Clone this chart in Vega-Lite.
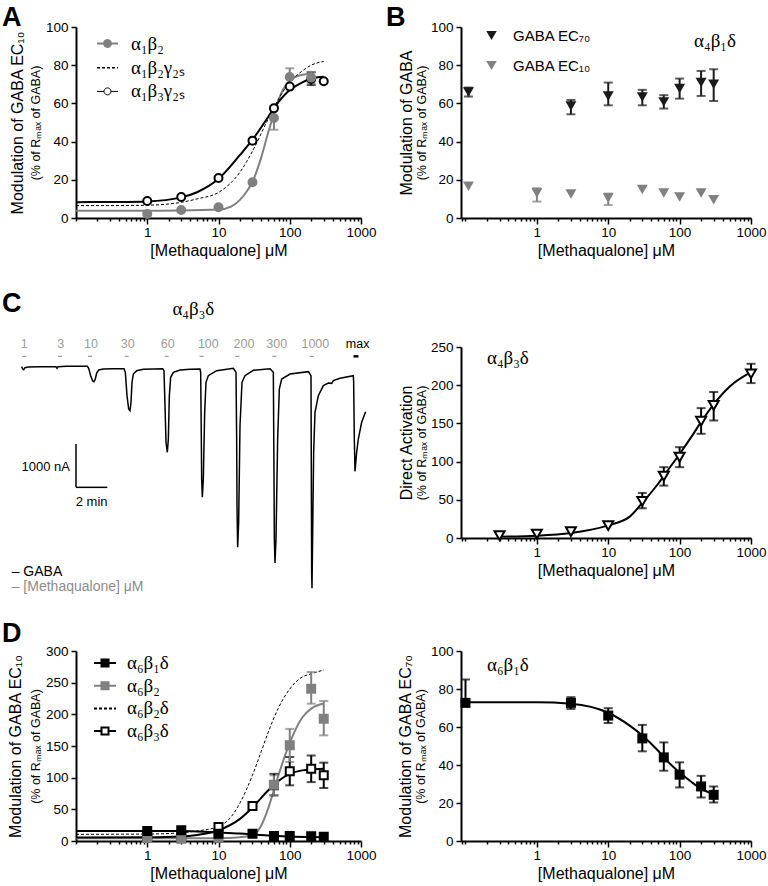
{
"$schema": "https://vega.github.io/schema/vega-lite/v6.json",
"background": "white",
"padding": {"left": 2, "top": 4, "right": 0, "bottom": 0},
"columns": 2,
"bounds": "flush",
"spacing": {"row": 113, "column": 100},
"resolve": {
  "scale": {"color": "independent", "fill": "independent", "stroke": "independent", "shape": "independent", "strokeDash": "independent", "strokeWidth": "independent"},
  "legend": {"color": "independent", "fill": "independent", "stroke": "independent", "shape": "independent", "strokeDash": "independent", "strokeWidth": "independent"}
},
"config": {
  "font": "Liberation Sans",
  "view": {"stroke": null},
  "axis": {"grid": false, "domainColor": "#000000", "domainWidth": 2, "tickColor": "#000000", "tickWidth": 1.5, "tickSize": 5, "labelColor": "#000000", "labelFontSize": 13.5, "labelPadding": 3, "titleColor": "#000000", "titleFontSize": 16, "titleFontWeight": "normal", "labelFont": "Liberation Sans", "titleFont": "Liberation Sans"},
  "axisX": {"values": [0.2,0.3,0.4,0.5,0.6,0.7,0.8,0.9,1,2,3,4,5,6,7,8,9,10,20,30,40,50,60,70,80,90,100,200,300,400,500,600,700,800,900,1000], "format": "~g", "labelExpr": "(datum.value == 1 || datum.value == 10 || datum.value == 100 || datum.value == 1000) ? datum.label : ''", "tickSize": {"condition": {"test": "datum.value == 1 || datum.value == 10 || datum.value == 100 || datum.value == 1000", "value": 6}, "value": 3}, "labelFlush": false, "labelOverlap": false, "labelPadding": 1, "titlePadding": 4},
  "title": {"font": "Liberation Sans", "fontSize": 27, "fontWeight": "bold", "anchor": "start", "frame": "group", "baseline": "alphabetic", "color": "#000000"}
},
"concat": [
{
 "width": 285, "height": 191,
 "title": {"text": "A", "dx": -74, "offset": -12},
 "layer": [
  {"data": {"name": "A_fit"}, "transform": [{"filter": "false"}], "mark": {"type": "point", "opacity": 1},
   "encoding": {"y": {"field": "v", "type": "quantitative", "scale": {"domain": [0, 100], "nice": false}, "axis": null},
    "stroke": {"field": "s", "type": "nominal", "scale": {"domain": ["α₁β₂", "α₁β₂γ₂ₛ", "α₁β₃γ₂ₛ"], "range": ["#808080", "#000000", "#000000"]},
     "legend": {"orient": "top-left", "offset": 5, "title": null, "padding": 0, "symbolSize": 441, "symbolOffset": 15, "labelOffset": 12, "rowPadding": 2.2, "labelFont": "Liberation Serif", "labelFontSize": 19, "labelColor": "#000000"}},
    "fill": {"field": "s", "type": "nominal", "scale": {"domain": ["α₁β₂", "α₁β₂γ₂ₛ", "α₁β₃γ₂ₛ"], "range": ["#808080", "transparent", "#ffffff"]},
     "legend": {"orient": "top-left", "offset": 5, "title": null, "padding": 0, "symbolSize": 441, "symbolOffset": 15, "labelOffset": 12, "rowPadding": 2.2, "labelFont": "Liberation Serif", "labelFontSize": 19, "labelColor": "#000000"}},
    "shape": {"field": "s", "type": "nominal", "scale": {"domain": ["α₁β₂", "α₁β₂γ₂ₛ", "α₁β₃γ₂ₛ"], "range": ["M-1,0H-0.33M0.33,0H1M-0.33,0A0.33,0.33,0,1,0,0.33,0A0.33,0.33,0,1,0,-0.33,0Z", "M-1,0H1", "M-1,0H-0.33M0.33,0H1M-0.33,0A0.33,0.33,0,1,0,0.33,0A0.33,0.33,0,1,0,-0.33,0Z"]},
     "legend": {"orient": "top-left", "offset": 5, "title": null, "padding": 0, "symbolSize": 441, "symbolOffset": 15, "labelOffset": 12, "rowPadding": 2.2, "labelFont": "Liberation Serif", "labelFontSize": 19, "labelColor": "#000000"}},
    "strokeDash": {"field": "s", "type": "nominal", "scale": {"domain": ["α₁β₂", "α₁β₂γ₂ₛ", "α₁β₃γ₂ₛ"], "range": [[1, 0], [3, 2], [1, 0]]},
     "legend": {"orient": "top-left", "offset": 5, "title": null, "padding": 0, "symbolSize": 441, "symbolOffset": 15, "labelOffset": 12, "rowPadding": 2.2, "labelFont": "Liberation Serif", "labelFontSize": 19, "labelColor": "#000000"}},
    "strokeWidth": {"field": "s", "type": "ordinal", "scale": {"domain": ["α₁β₂", "α₁β₂γ₂ₛ", "α₁β₃γ₂ₛ"], "range": [2, 1, 2]},
     "legend": {"orient": "top-left", "offset": 5, "title": null, "padding": 0, "symbolSize": 441, "symbolOffset": 15, "labelOffset": 12, "rowPadding": 2.2, "labelFont": "Liberation Serif", "labelFontSize": 19, "labelColor": "#000000"}}}},
  {"data": {"name": "A_fit"}, "transform": [{"filter": "datum.s != 'α₁β₂γ₂ₛ'"}], "mark": {"type": "line", "interpolate": "monotone", "strokeWidth": 2},
   "encoding": {"x": {"field": "c", "type": "quantitative", "title": "[Methaqualone] μM", "scale": {"type": "log", "domain": [0.1, 1000], "nice": false}},
    "y": {"field": "v", "type": "quantitative", "scale": {"domain": [0, 100], "nice": false}, "axis": {"orient": "left", "values": [0, 20, 40, 60, 80, 100], "title": "(% of Rₘₐₓ of GABA)", "titleFontSize": 12.5, "titlePadding": 3}},
    "stroke": {"field": "s", "type": "nominal", "scale": {"domain": ["α₁β₂", "α₁β₂γ₂ₛ", "α₁β₃γ₂ₛ"], "range": ["#808080", "#000000", "#000000"]}, "legend": null}}},
  {"data": {"name": "A_fit"}, "transform": [{"filter": "datum.s == 'α₁β₂γ₂ₛ'"}], "mark": {"type": "line", "interpolate": "monotone", "strokeWidth": 1, "strokeDash": [3, 2], "color": "#000000"},
   "encoding": {"x": {"field": "c", "type": "quantitative", "title": "[Methaqualone] μM", "scale": {"type": "log", "domain": [0.1, 1000], "nice": false}},
    "y": {"field": "v", "type": "quantitative", "scale": {"domain": [0, 100], "nice": false}, "axis": null}}},
  {"data": {"name": "A_pts"}, "transform": [{"filter": "isValid(datum.lo)"}], "mark": {"type": "errorbar", "thickness": 2, "ticks": {"size": 9}},
   "encoding": {"x": {"field": "c", "type": "quantitative", "title": "[Methaqualone] μM", "scale": {"type": "log", "domain": [0.1, 1000], "nice": false}},
    "y": {"field": "lo", "type": "quantitative", "scale": {"domain": [0, 100], "nice": false}, "axis": null}, "y2": {"field": "hi"},
    "color": {"field": "s", "type": "nominal", "scale": {"domain": ["α₁β₂", "α₁β₃γ₂ₛ"], "range": ["#808080", "#000000"]}, "legend": null}}},
  {"data": {"name": "A_pts"}, "mark": {"type": "point", "shape": "circle", "filled": true, "size": 64, "strokeWidth": 2, "opacity": 1},
   "encoding": {"x": {"field": "c", "type": "quantitative", "title": "[Methaqualone] μM", "scale": {"type": "log", "domain": [0.1, 1000], "nice": false}},
    "y": {"field": "v", "type": "quantitative", "scale": {"domain": [0, 100], "nice": false}, "axis": {"orient": "left", "title": "Modulation of GABA EC₁₀", "labels": false, "ticks": false, "domain": false, "titlePadding": 51}},
    "fill": {"field": "s", "type": "nominal", "scale": {"domain": ["α₁β₂", "α₁β₂γ₂ₛ", "α₁β₃γ₂ₛ"], "range": ["#808080", "transparent", "#ffffff"]}, "legend": null},
    "stroke": {"field": "s", "type": "nominal", "scale": {"domain": ["α₁β₂", "α₁β₂γ₂ₛ", "α₁β₃γ₂ₛ"], "range": ["#808080", "#000000", "#000000"]}, "legend": null}}}
 ],
 "resolve": {"axis": {"y": "independent"}}
},
{
 "width": 290, "height": 191,
 "title": {"text": "B", "dx": -75, "offset": -12},
 "layer": [
  {"data": {"name": "B_pts"}, "mark": {"type": "point", "shape": "triangle-down", "filled": true, "size": 120, "opacity": 1},
   "encoding": {"x": {"field": "c", "type": "quantitative", "title": "[Methaqualone] μM", "scale": {"type": "log", "domain": [0.0865, 1000], "nice": false}},
    "y": {"field": "v", "type": "quantitative", "scale": {"domain": [0, 100], "nice": false}, "axis": {"orient": "left", "values": [0, 20, 40, 60, 80, 100], "title": "(% of Rₘₐₓ of GABA)", "titleFontSize": 12.5, "titlePadding": 2}},
    "fill": {"field": "s", "type": "nominal", "scale": {"domain": ["GABA EC₇₀", "GABA EC₁₀"], "range": ["#1a1a1a", "#808080"]},
     "legend": {"orient": "top-left", "offset": 1, "title": null, "padding": 0, "symbolType": "triangle-down", "symbolSize": 110, "symbolOffset": 22, "symbolStrokeWidth": 0, "labelOffset": 14, "rowPadding": 14, "labelFontSize": 15, "labelFont": "Liberation Sans", "labelColor": "#000000"}}}},
  {"data": {"name": "B_pts"}, "transform": [{"filter": "isValid(datum.lo)"}], "mark": {"type": "errorbar", "thickness": 2, "ticks": {"size": 9}},
   "encoding": {"x": {"field": "c", "type": "quantitative", "title": "[Methaqualone] μM", "scale": {"type": "log", "domain": [0.0865, 1000], "nice": false}},
    "y": {"field": "lo", "type": "quantitative", "scale": {"domain": [0, 100], "nice": false}, "axis": null}, "y2": {"field": "hi"},
    "color": {"field": "s", "type": "nominal", "scale": {"domain": ["GABA EC₇₀", "GABA EC₁₀"], "range": ["#1a1a1a", "#808080"]}, "legend": null}}},
  {"data": {"values": [{}]}, "mark": {"type": "text", "font": "Liberation Serif", "fontSize": 19, "align": "center", "baseline": "middle", "color": "#000000"},
   "encoding": {"x": {"datum": 313, "type": "quantitative"}, "y": {"datum": 92.7, "type": "quantitative", "axis": {"orient": "left", "title": "Modulation of GABA", "labels": false, "ticks": false, "domain": false, "titlePadding": 47}}, "text": {"value": "α₄β₁δ"}}}
 ],
 "resolve": {"axis": {"y": "independent"}}
},
{
 "width": 285, "height": 207,
 "title": {"text": "C", "dx": -74, "offset": -18},
 "data": {"values": [{}]},
 "layer": [
  {"data": {"name": "trace"}, "mark": {"type": "line", "color": "#000000", "strokeWidth": 1.5},
   "encoding": {"x": {"field": "t", "type": "quantitative", "scale": {"domain": [3.468, 21.66], "nice": false, "zero": false}, "axis": null},
    "y": {"field": "I", "type": "quantitative", "scale": {"domain": [-3953, 822.9], "nice": false, "zero": false}, "axis": null}}},
  {"data": {"name": "apps"}, "mark": {"type": "rule"},
   "encoding": {"x": {"field": "t1", "type": "quantitative", "scale": {"domain": [3.468, 21.66], "nice": false, "zero": false}, "axis": null}, "x2": {"field": "t2"},
    "y": {"datum": 238, "type": "quantitative", "scale": {"domain": [-3953, 822.9], "nice": false, "zero": false}, "axis": null},
    "color": {"field": "k", "type": "nominal", "scale": {"domain": ["d", "g"], "range": ["#9a9a9a", "#000000"]}, "legend": null},
    "strokeWidth": {"field": "k", "type": "ordinal", "scale": {"domain": ["d", "g"], "range": [1.2, 2.4]}, "legend": null}}},
  {"data": {"name": "apps"}, "mark": {"type": "text", "fontSize": 12.5, "baseline": "middle", "align": "center"},
   "encoding": {"x": {"field": "tl", "type": "quantitative", "scale": {"domain": [3.468, 21.66], "nice": false, "zero": false}, "axis": null},
    "y": {"datum": 523, "type": "quantitative", "scale": {"domain": [-3953, 822.9], "nice": false, "zero": false}, "axis": null},
    "text": {"field": "lab"},
    "color": {"field": "k", "type": "nominal", "scale": {"domain": ["d", "g"], "range": ["#9a9a9a", "#000000"]}, "legend": null}}},
  {"data": {"name": "bar"}, "mark": {"type": "rule", "color": "#000000", "strokeWidth": 1.5},
   "encoding": {"x": {"field": "t1", "type": "quantitative", "scale": {"domain": [3.468, 21.66], "nice": false, "zero": false}, "axis": null}, "x2": {"field": "t2"},
    "y": {"field": "i1", "type": "quantitative", "scale": {"domain": [-3953, 822.9], "nice": false, "zero": false}, "axis": null}, "y2": {"field": "i2"}}},
  {"mark": {"type": "text", "fontSize": 13, "align": "right", "baseline": "middle", "color": "#000000"},
   "encoding": {"x": {"datum": 3.085, "type": "quantitative", "axis": null}, "y": {"datum": -2322, "type": "quantitative", "axis": null}, "text": {"value": "1000 nA"}}},
  {"mark": {"type": "text", "fontSize": 13, "align": "center", "baseline": "middle", "color": "#000000"},
   "encoding": {"x": {"datum": 4.468, "type": "quantitative", "axis": null}, "y": {"datum": -3130, "type": "quantitative", "axis": null}, "text": {"value": "2 min"}}},
  {"mark": {"type": "text", "font": "Liberation Serif", "fontSize": 19, "align": "center", "baseline": "middle", "color": "#000000"},
   "encoding": {"x": {"datum": 10.957, "type": "quantitative", "axis": null}, "y": {"datum": 1330, "type": "quantitative", "axis": null}, "text": {"value": "α₄β₃δ"}}},
  {"mark": {"type": "text", "fontSize": 14, "align": "left", "baseline": "middle", "color": "#000000"},
   "encoding": {"x": {"datum": -0.637, "type": "quantitative", "axis": null}, "y": {"datum": -4745, "type": "quantitative", "axis": null}, "text": {"value": "– GABA"}}},
  {"mark": {"type": "text", "fontSize": 14, "align": "left", "baseline": "middle", "color": "#8c8c8c"},
   "encoding": {"x": {"datum": -0.637, "type": "quantitative", "axis": null}, "y": {"datum": -5091, "type": "quantitative", "axis": null}, "text": {"value": "– [Methaqualone] μM"}}}
 ]
},
{
 "width": 290, "height": 207,
 "layer": [
  {"data": {"name": "C_fit"}, "mark": {"type": "line", "interpolate": "monotone", "strokeWidth": 2, "color": "#000000"},
   "encoding": {"x": {"field": "c", "type": "quantitative", "title": "[Methaqualone] μM", "scale": {"type": "log", "domain": [0.0865, 1000], "nice": false}},
    "y": {"field": "v", "type": "quantitative", "scale": {"domain": [0, 250], "range": [207, 16], "nice": false}, "axis": {"orient": "left", "values": [0, 50, 100, 150, 200, 250], "title": "(% of Rₘₐₓ of GABA)", "titleFontSize": 12.5, "titlePadding": 2}}}},
  {"data": {"name": "C_pts"}, "transform": [{"filter": "isValid(datum.lo)"}], "mark": {"type": "errorbar", "thickness": 2, "ticks": {"size": 9}, "color": "#000000"},
   "encoding": {"x": {"field": "c", "type": "quantitative", "title": "[Methaqualone] μM", "scale": {"type": "log", "domain": [0.0865, 1000], "nice": false}},
    "y": {"field": "lo", "type": "quantitative", "scale": {"domain": [0, 250], "range": [207, 16], "nice": false}, "axis": null}, "y2": {"field": "hi"}}},
  {"data": {"name": "C_pts"}, "mark": {"type": "point", "shape": "triangle-down", "filled": true, "fill": "#ffffff", "stroke": "#000000", "strokeWidth": 2, "size": 100, "opacity": 1},
   "encoding": {"x": {"field": "c", "type": "quantitative", "title": "[Methaqualone] μM", "scale": {"type": "log", "domain": [0.0865, 1000], "nice": false}},
    "y": {"field": "v", "type": "quantitative", "scale": {"domain": [0, 250], "range": [207, 16], "nice": false}, "axis": {"orient": "left", "title": "Direct Activation", "labels": false, "ticks": false, "domain": false, "titlePadding": 47}}}},
  {"data": {"values": [{}]}, "mark": {"type": "text", "font": "Liberation Serif", "fontSize": 19, "align": "center", "baseline": "middle", "color": "#000000"},
   "encoding": {"x": {"datum": 0.392, "type": "quantitative"}, "y": {"datum": 235.6, "type": "quantitative", "axis": null}, "text": {"value": "α₄β₃δ"}}}
 ],
 "resolve": {"axis": {"y": "independent"}}
},
{
 "width": 285, "height": 190,
 "title": {"text": "D", "dx": -74, "offset": -4},
 "layer": [
  {"data": {"name": "D1_fit"}, "transform": [{"filter": "false"}], "mark": {"type": "point", "opacity": 1},
   "encoding": {"y": {"field": "v", "type": "quantitative", "scale": {"domain": [0, 300], "nice": false}, "axis": null},
    "stroke": {"field": "s", "type": "nominal", "scale": {"domain": ["α₆β₁δ", "α₆β₂", "α₆β₂δ", "α₆β₃δ"], "range": ["#000000", "#808080", "#000000", "#000000"]},
     "legend": {"orient": "top-left", "offset": 0, "title": null, "padding": 0, "symbolSize": 484, "symbolOffset": 17, "labelOffset": 10, "rowPadding": 0.7, "labelFont": "Liberation Serif", "labelFontSize": 19, "labelColor": "#000000"}},
    "fill": {"field": "s", "type": "nominal", "scale": {"domain": ["α₆β₁δ", "α₆β₂", "α₆β₂δ", "α₆β₃δ"], "range": ["#000000", "#808080", "transparent", "#ffffff"]},
     "legend": {"orient": "top-left", "offset": 0, "title": null, "padding": 0, "symbolSize": 484, "symbolOffset": 17, "labelOffset": 10, "rowPadding": 0.7, "labelFont": "Liberation Serif", "labelFontSize": 19, "labelColor": "#000000"}},
    "shape": {"field": "s", "type": "nominal", "scale": {"domain": ["α₆β₁δ", "α₆β₂", "α₆β₂δ", "α₆β₃δ"], "range": ["M-1,0H-0.32M0.32,0H1M-0.32,-0.32H0.32V0.32H-0.32Z", "M-1,0H-0.32M0.32,0H1M-0.32,-0.32H0.32V0.32H-0.32Z", "M-1,0H1", "M-1,0H-0.32M0.32,0H1M-0.32,-0.32H0.32V0.32H-0.32Z"]},
     "legend": {"orient": "top-left", "offset": 0, "title": null, "padding": 0, "symbolSize": 484, "symbolOffset": 17, "labelOffset": 10, "rowPadding": 0.7, "labelFont": "Liberation Serif", "labelFontSize": 19, "labelColor": "#000000"}},
    "strokeDash": {"field": "s", "type": "nominal", "scale": {"domain": ["α₆β₁δ", "α₆β₂", "α₆β₂δ", "α₆β₃δ"], "range": [[1, 0], [1, 0], [3, 2], [1, 0]]},
     "legend": {"orient": "top-left", "offset": 0, "title": null, "padding": 0, "symbolSize": 484, "symbolOffset": 17, "labelOffset": 10, "rowPadding": 0.7, "labelFont": "Liberation Serif", "labelFontSize": 19, "labelColor": "#000000"}},
    "strokeWidth": {"field": "s", "type": "ordinal", "scale": {"domain": ["α₆β₁δ", "α₆β₂", "α₆β₂δ", "α₆β₃δ"], "range": [2, 2, 1, 2]},
     "legend": {"orient": "top-left", "offset": 0, "title": null, "padding": 0, "symbolSize": 484, "symbolOffset": 17, "labelOffset": 10, "rowPadding": 0.7, "labelFont": "Liberation Serif", "labelFontSize": 19, "labelColor": "#000000"}}}},
  {"data": {"name": "D1_fit"}, "transform": [{"filter": "datum.s != 'α₆β₂δ'"}], "mark": {"type": "line", "interpolate": "monotone", "strokeWidth": 2},
   "encoding": {"x": {"field": "c", "type": "quantitative", "title": "[Methaqualone] μM", "scale": {"type": "log", "domain": [0.1, 1000], "nice": false}},
    "y": {"field": "v", "type": "quantitative", "scale": {"domain": [0, 300], "nice": false}, "axis": {"orient": "left", "values": [0, 50, 100, 150, 200, 250, 300], "title": "(% of Rₘₐₓ of GABA)", "titleFontSize": 12.5, "titlePadding": 3}},
    "stroke": {"field": "s", "type": "nominal", "scale": {"domain": ["α₆β₁δ", "α₆β₂", "α₆β₂δ", "α₆β₃δ"], "range": ["#000000", "#808080", "#000000", "#000000"]}, "legend": null}}},
  {"data": {"name": "D1_fit"}, "transform": [{"filter": "datum.s == 'α₆β₂δ'"}], "mark": {"type": "line", "interpolate": "monotone", "strokeWidth": 1, "strokeDash": [3, 2], "color": "#000000"},
   "encoding": {"x": {"field": "c", "type": "quantitative", "title": "[Methaqualone] μM", "scale": {"type": "log", "domain": [0.1, 1000], "nice": false}},
    "y": {"field": "v", "type": "quantitative", "scale": {"domain": [0, 300], "nice": false}, "axis": null}}},
  {"data": {"name": "D1_pts"}, "transform": [{"filter": "isValid(datum.lo)"}], "mark": {"type": "errorbar", "thickness": 2, "ticks": {"size": 9}},
   "encoding": {"x": {"field": "c", "type": "quantitative", "title": "[Methaqualone] μM", "scale": {"type": "log", "domain": [0.1, 1000], "nice": false}},
    "y": {"field": "lo", "type": "quantitative", "scale": {"domain": [0, 300], "nice": false}, "axis": null}, "y2": {"field": "hi"},
    "color": {"field": "s", "type": "nominal", "scale": {"domain": ["α₆β₁δ", "α₆β₂", "α₆β₃δ"], "range": ["#000000", "#808080", "#000000"]}, "legend": null}}},
  {"data": {"name": "D1_pts"}, "mark": {"type": "point", "shape": "square", "filled": true, "size": 64, "strokeWidth": 2, "opacity": 1},
   "encoding": {"x": {"field": "c", "type": "quantitative", "title": "[Methaqualone] μM", "scale": {"type": "log", "domain": [0.1, 1000], "nice": false}},
    "y": {"field": "v", "type": "quantitative", "scale": {"domain": [0, 300], "nice": false}, "axis": {"orient": "left", "title": "Modulation of GABA EC₁₀", "labels": false, "ticks": false, "domain": false, "titlePadding": 53}},
    "fill": {"field": "s", "type": "nominal", "scale": {"domain": ["α₆β₁δ", "α₆β₂", "α₆β₂δ", "α₆β₃δ"], "range": ["#000000", "#808080", "transparent", "#ffffff"]}, "legend": null},
    "stroke": {"field": "s", "type": "nominal", "scale": {"domain": ["α₆β₁δ", "α₆β₂", "α₆β₂δ", "α₆β₃δ"], "range": ["#000000", "#808080", "#000000", "#000000"]}, "legend": null}}}
 ],
 "resolve": {"axis": {"y": "independent"}}
},
{
 "width": 290, "height": 190,
 "layer": [
  {"data": {"name": "D2_fit"}, "mark": {"type": "line", "interpolate": "monotone", "strokeWidth": 2, "color": "#000000"},
   "encoding": {"x": {"field": "c", "type": "quantitative", "title": "[Methaqualone] μM", "scale": {"type": "log", "domain": [0.0865, 1000], "nice": false}},
    "y": {"field": "v", "type": "quantitative", "scale": {"domain": [0, 100], "nice": false}, "axis": {"orient": "left", "values": [0, 20, 40, 60, 80, 100], "title": "(% of Rₘₐₓ of GABA)", "titleFontSize": 12.5, "titlePadding": 3}}}},
  {"data": {"name": "D2_pts"}, "mark": {"type": "errorbar", "thickness": 2, "ticks": {"size": 9}, "color": "#000000"},
   "encoding": {"x": {"field": "c", "type": "quantitative", "title": "[Methaqualone] μM", "scale": {"type": "log", "domain": [0.0865, 1000], "nice": false}},
    "y": {"field": "lo", "type": "quantitative", "scale": {"domain": [0, 100], "nice": false}, "axis": null}, "y2": {"field": "hi"}}},
  {"data": {"name": "D2_pts"}, "mark": {"type": "point", "shape": "square", "filled": true, "color": "#000000", "size": 100, "opacity": 1},
   "encoding": {"x": {"field": "c", "type": "quantitative", "title": "[Methaqualone] μM", "scale": {"type": "log", "domain": [0.0865, 1000], "nice": false}},
    "y": {"field": "v", "type": "quantitative", "scale": {"domain": [0, 100], "nice": false}, "axis": {"orient": "left", "title": "Modulation of GABA EC₇₀", "labels": false, "ticks": false, "domain": false, "titlePadding": 48}}}},
  {"data": {"values": [{}]}, "mark": {"type": "text", "font": "Liberation Serif", "fontSize": 19, "align": "center", "baseline": "middle", "color": "#000000"},
   "encoding": {"x": {"datum": 0.392, "type": "quantitative"}, "y": {"datum": 92.7, "type": "quantitative", "axis": null}, "text": {"value": "α₆β₁δ"}}}
 ],
 "resolve": {"axis": {"y": "independent"}}
}
],
"datasets": {
 "A_fit": [
  {"s":"α₁β₂","c":0.1,"v":3.8},{"s":"α₁β₂","c":1,"v":3.8},{"s":"α₁β₂","c":3,"v":3.9},{"s":"α₁β₂","c":10,"v":4.4},{"s":"α₁β₂","c":15,"v":6},{"s":"α₁β₂","c":20,"v":9.5},{"s":"α₁β₂","c":25,"v":14},{"s":"α₁β₂","c":30,"v":19},{"s":"α₁β₂","c":40,"v":32},{"s":"α₁β₂","c":50,"v":45},{"s":"α₁β₂","c":60,"v":54.5},{"s":"α₁β₂","c":70,"v":62},{"s":"α₁β₂","c":80,"v":67},{"s":"α₁β₂","c":100,"v":72},{"s":"α₁β₂","c":150,"v":75},{"s":"α₁β₂","c":200,"v":75.5},
  {"s":"α₁β₂γ₂ₛ","c":0.1,"v":6.5},{"s":"α₁β₂γ₂ₛ","c":0.3,"v":6.5},{"s":"α₁β₂γ₂ₛ","c":1,"v":6.7},{"s":"α₁β₂γ₂ₛ","c":3,"v":8.2},{"s":"α₁β₂γ₂ₛ","c":5,"v":10},{"s":"α₁β₂γ₂ₛ","c":10,"v":13.4},{"s":"α₁β₂γ₂ₛ","c":20,"v":24},{"s":"α₁β₂γ₂ₛ","c":30,"v":35},{"s":"α₁β₂γ₂ₛ","c":50,"v":52},{"s":"α₁β₂γ₂ₛ","c":70,"v":62.5},{"s":"α₁β₂γ₂ₛ","c":100,"v":71},{"s":"α₁β₂γ₂ₛ","c":150,"v":77},{"s":"α₁β₂γ₂ₛ","c":200,"v":80},{"s":"α₁β₂γ₂ₛ","c":300,"v":82},
  {"s":"α₁β₃γ₂ₛ","c":0.1,"v":8.3},{"s":"α₁β₃γ₂ₛ","c":0.3,"v":8.4},{"s":"α₁β₃γ₂ₛ","c":1,"v":8.7},{"s":"α₁β₃γ₂ₛ","c":3,"v":10.8},{"s":"α₁β₃γ₂ₛ","c":5,"v":13.5},{"s":"α₁β₃γ₂ₛ","c":10,"v":20.5},{"s":"α₁β₃γ₂ₛ","c":20,"v":33},{"s":"α₁β₃γ₂ₛ","c":30,"v":41},{"s":"α₁β₃γ₂ₛ","c":50,"v":53},{"s":"α₁β₃γ₂ₛ","c":60,"v":57.5},{"s":"α₁β₃γ₂ₛ","c":100,"v":67},{"s":"α₁β₃γ₂ₛ","c":150,"v":71},{"s":"α₁β₃γ₂ₛ","c":200,"v":73},{"s":"α₁β₃γ₂ₛ","c":300,"v":74}
 ],
 "A_pts": [
  {"s":"α₁β₂","c":1,"v":2.1},{"s":"α₁β₂","c":3,"v":4.2},{"s":"α₁β₂","c":10,"v":5.6},{"s":"α₁β₂","c":30,"v":18.7},{"s":"α₁β₂","c":60,"v":52.4,"lo":46.2,"hi":58.6},{"s":"α₁β₂","c":100,"v":73.8,"lo":69.2,"hi":78.4},
  {"s":"α₁β₃γ₂ₛ","c":1,"v":8.9},{"s":"α₁β₃γ₂ₛ","c":3,"v":11},{"s":"α₁β₃γ₂ₛ","c":10,"v":20.9},{"s":"α₁β₃γ₂ₛ","c":30,"v":40.5},{"s":"α₁β₃γ₂ₛ","c":60,"v":57.4},{"s":"α₁β₃γ₂ₛ","c":100,"v":68.8},{"s":"α₁β₃γ₂ₛ","c":200,"v":72.8,"lo":69.6,"hi":76.3},{"s":"α₁β₃γ₂ₛ","c":300,"v":71.6},
  {"s":"α₁β₂","c":200,"v":73.5,"lo":70.5,"hi":76.5}
 ],
 "B_pts": [
  {"s":"GABA EC₇₀","c":0.11,"v":66.0,"lo":63.6,"hi":68.3},{"s":"GABA EC₇₀","c":3,"v":58.7,"lo":54.3,"hi":61.8},{"s":"GABA EC₇₀","c":10,"v":63.9,"lo":59,"hi":70.9},{"s":"GABA EC₇₀","c":30,"v":63.4,"lo":59,"hi":67.1},{"s":"GABA EC₇₀","c":60,"v":60.8,"lo":57.3,"hi":64.3},{"s":"GABA EC₇₀","c":100,"v":67.8,"lo":62.5,"hi":73},{"s":"GABA EC₇₀","c":200,"v":70.9,"lo":63.9,"hi":77},{"s":"GABA EC₇₀","c":300,"v":70.0,"lo":61.3,"hi":77.9},
  {"s":"GABA EC₁₀","c":0.11,"v":16.6},{"s":"GABA EC₁₀","c":1,"v":13.1,"lo":8.6,"hi":15.6},{"s":"GABA EC₁₀","c":3,"v":12.6},{"s":"GABA EC₁₀","c":10,"v":10.5,"lo":6.8,"hi":12.8},{"s":"GABA EC₁₀","c":30,"v":14.9},{"s":"GABA EC₁₀","c":60,"v":13.1},{"s":"GABA EC₁₀","c":100,"v":11.0},{"s":"GABA EC₁₀","c":200,"v":13.1},{"s":"GABA EC₁₀","c":300,"v":9.6}
 ],
 "C_pts": [
  {"c":0.3,"v":3.1},{"c":1,"v":5.2},{"c":3,"v":8.3},{"c":10,"v":16.2},{"c":30,"v":48.1,"lo":38.9,"hi":59},{"c":60,"v":80.9,"lo":68.6,"hi":92.7},{"c":100,"v":105.8,"lo":92.7,"hi":118.9},{"c":200,"v":153,"lo":136.4,"hi":170},{"c":300,"v":173.5,"lo":153.8,"hi":191},{"c":1000,"v":215,"lo":202.8,"hi":228}
 ],
 "C_fit": [
  {"c":0.3,"v":1.8},{"c":1,"v":3},{"c":3,"v":6.5},{"c":10,"v":16.5},{"c":20,"v":28},{"c":30,"v":46},{"c":50,"v":71},{"c":70,"v":90},{"c":100,"v":110},{"c":150,"v":134},{"c":200,"v":152},{"c":300,"v":175},{"c":500,"v":198},{"c":1000,"v":217}
 ],
 "D1_fit": [
  {"s":"α₆β₁δ","c":0.1,"v":15.8},{"s":"α₆β₁δ","c":1,"v":15.8},{"s":"α₆β₁δ","c":3,"v":15.6},{"s":"α₆β₁δ","c":5,"v":15},{"s":"α₆β₁δ","c":10,"v":13.5},{"s":"α₆β₁δ","c":20,"v":11.8},{"s":"α₆β₁δ","c":30,"v":10.5},{"s":"α₆β₁δ","c":60,"v":8.2},{"s":"α₆β₁δ","c":100,"v":7},{"s":"α₆β₁δ","c":200,"v":6.2},{"s":"α₆β₁δ","c":300,"v":6},
  {"s":"α₆β₂","c":0.1,"v":4.2},{"s":"α₆β₂","c":1,"v":4.2},{"s":"α₆β₂","c":10,"v":4.5},{"s":"α₆β₂","c":20,"v":6},{"s":"α₆β₂","c":30,"v":9},{"s":"α₆β₂","c":40,"v":25},{"s":"α₆β₂","c":50,"v":52},{"s":"α₆β₂","c":60,"v":80},{"s":"α₆β₂","c":70,"v":105},{"s":"α₆β₂","c":80,"v":125},{"s":"α₆β₂","c":100,"v":155},{"s":"α₆β₂","c":150,"v":195},{"s":"α₆β₂","c":200,"v":209},{"s":"α₆β₂","c":300,"v":217},
  {"s":"α₆β₂δ","c":0.1,"v":10.5},{"s":"α₆β₂δ","c":1,"v":11},{"s":"α₆β₂δ","c":3,"v":13},{"s":"α₆β₂δ","c":5,"v":15.8},{"s":"α₆β₂δ","c":10,"v":23},{"s":"α₆β₂δ","c":15,"v":38},{"s":"α₆β₂δ","c":20,"v":60},{"s":"α₆β₂δ","c":30,"v":104},{"s":"α₆β₂δ","c":40,"v":142},{"s":"α₆β₂δ","c":50,"v":172},{"s":"α₆β₂δ","c":70,"v":211},{"s":"α₆β₂δ","c":100,"v":240},{"s":"α₆β₂δ","c":150,"v":259},{"s":"α₆β₂δ","c":200,"v":264},{"s":"α₆β₂δ","c":300,"v":270},
  {"s":"α₆β₃δ","c":0.1,"v":5.5},{"s":"α₆β₃δ","c":1,"v":5.8},{"s":"α₆β₃δ","c":3,"v":7},{"s":"α₆β₃δ","c":5,"v":9.5},{"s":"α₆β₃δ","c":10,"v":17},{"s":"α₆β₃δ","c":20,"v":35},{"s":"α₆β₃δ","c":30,"v":53},{"s":"α₆β₃δ","c":50,"v":80},{"s":"α₆β₃δ","c":70,"v":95},{"s":"α₆β₃δ","c":100,"v":106},{"s":"α₆β₃δ","c":150,"v":111.5},{"s":"α₆β₃δ","c":200,"v":113},{"s":"α₆β₃δ","c":300,"v":114}
 ],
 "D1_pts": [
  {"s":"α₆β₃δ","c":1,"v":6.3},{"s":"α₆β₃δ","c":3,"v":4.7},{"s":"α₆β₃δ","c":10,"v":22.1},{"s":"α₆β₃δ","c":30,"v":55.3},{"s":"α₆β₃δ","c":60,"v":87.9,"lo":72,"hi":106},{"s":"α₆β₃δ","c":100,"v":110,"lo":87.9,"hi":132.6},{"s":"α₆β₃δ","c":200,"v":114,"lo":93,"hi":135},{"s":"α₆β₃δ","c":300,"v":103.7,"lo":83.7,"hi":123.7},
  {"s":"α₆β₂","c":1,"v":4.7},{"s":"α₆β₂","c":3,"v":3.7},{"s":"α₆β₂","c":10,"v":5},{"s":"α₆β₂","c":60,"v":88.9,"lo":72,"hi":103.7},{"s":"α₆β₂","c":100,"v":151,"lo":124.7,"hi":177},{"s":"α₆β₂","c":200,"v":240.5,"lo":216.8,"hi":266.8},{"s":"α₆β₂","c":300,"v":193,"lo":166.8,"hi":221},
  {"s":"α₆β₁δ","c":1,"v":15.8},{"s":"α₆β₁δ","c":3,"v":16.8},{"s":"α₆β₁δ","c":10,"v":11.6},{"s":"α₆β₁δ","c":30,"v":11.6},{"s":"α₆β₁δ","c":60,"v":7.9},{"s":"α₆β₁δ","c":100,"v":7.9},{"s":"α₆β₁δ","c":200,"v":7.4},{"s":"α₆β₁δ","c":300,"v":6.8}
 ],
 "D2_fit": [
  {"c":0.1,"v":73},{"c":1,"v":73},{"c":3,"v":72.3},{"c":10,"v":67.5},{"c":20,"v":60.7},{"c":30,"v":55.5},{"c":50,"v":47.5},{"c":70,"v":41.4},{"c":100,"v":36},{"c":150,"v":30.8},{"c":200,"v":27.6},{"c":300,"v":24.6}
 ],
 "D2_pts": [
  {"c":0.1,"v":72.7,"lo":72.7,"hi":85},{"c":3,"v":72.7,"lo":69.5,"hi":75.7},{"c":10,"v":66,"lo":62.1,"hi":69.9},{"c":30,"v":54,"lo":47.2,"hi":61.1},{"c":60,"v":44,"lo":37,"hi":51.9},{"c":100,"v":34.9,"lo":28.2,"hi":41.4},{"c":200,"v":28.7,"lo":22.9,"hi":34.3},{"c":300,"v":24.3,"lo":20.2,"hi":28.7}
 ],
 "apps": [
  {"lab":"1","tl":0.170,"t1":0.042,"t2":0.298,"k":"d"},
  {"lab":"3","tl":2.489,"t1":2.319,"t2":2.575,"k":"d"},
  {"lab":"10","tl":4.426,"t1":4.234,"t2":4.490,"k":"d"},
  {"lab":"30","tl":6.766,"t1":6.574,"t2":6.830,"k":"d"},
  {"lab":"60","tl":9.319,"t1":9.127,"t2":9.383,"k":"d"},
  {"lab":"100","tl":11.915,"t1":11.361,"t2":11.617,"k":"d"},
  {"lab":"200","tl":14.191,"t1":13.638,"t2":13.894,"k":"d"},
  {"lab":"300","tl":16.277,"t1":16.000,"t2":16.256,"k":"d"},
  {"lab":"1000","tl":18.745,"t1":18.383,"t2":18.639,"k":"d"},
  {"lab":"max","tl":21.447,"t1":21.18,"t2":21.50,"k":"g"}
 ],
 "bar": [
  {"t1":3.468,"t2":3.468,"i1":-1784,"i2":-2784},
  {"t1":3.468,"t2":5.468,"i1":-2784,"i2":-2784}
 ],
 "trace": [
  {"t":0,"I":0},{"t":0.064,"I":-54},{"t":0.128,"I":-69},{"t":0.213,"I":-23},{"t":0.426,"I":-8},{"t":1.170,"I":0},{"t":2.191,"I":0},{"t":2.255,"I":-38},{"t":2.319,"I":0},{"t":2.872,"I":8},{"t":4.191,"I":8},
  {"t":4.277,"I":-38},{"t":4.404,"I":-208},{"t":4.532,"I":-331},{"t":4.617,"I":-346},{"t":4.702,"I":-285},{"t":4.787,"I":-146},{"t":4.915,"I":-77},{"t":5.213,"I":-54},{"t":5.851,"I":-46},{"t":6.532,"I":-46},
  {"t":6.617,"I":-131},{"t":6.723,"I":-669},{"t":6.830,"I":-977},{"t":6.915,"I":-1015},{"t":6.979,"I":-823},{"t":7.043,"I":-361},{"t":7.128,"I":-169},{"t":7.340,"I":-92},{"t":7.766,"I":-62},{"t":9.000,"I":-46},
  {"t":9.085,"I":-92},{"t":9.149,"I":-900},{"t":9.213,"I":-1746},{"t":9.298,"I":-1976},{"t":9.362,"I":-1669},{"t":9.426,"I":-669},{"t":9.511,"I":-246},{"t":9.681,"I":-131},{"t":10.106,"I":-77},{"t":10.745,"I":-62},{"t":11.383,"I":-54},
  {"t":11.426,"I":-131},{"t":11.468,"I":-1669},{"t":11.489,"I":-2592},{"t":11.532,"I":-3014},{"t":11.596,"I":-2592},{"t":11.681,"I":-1054},{"t":11.766,"I":-361},{"t":11.915,"I":-208},{"t":12.447,"I":-92},{"t":13.511,"I":-38},
  {"t":13.681,"I":-131},{"t":13.723,"I":-1669},{"t":13.745,"I":-3207},{"t":13.787,"I":-4168},{"t":13.851,"I":-3591},{"t":13.936,"I":-1361},{"t":14.064,"I":-361},{"t":14.255,"I":-208},{"t":14.787,"I":-85},{"t":15.851,"I":-46},
  {"t":16.064,"I":-131},{"t":16.106,"I":-2438},{"t":16.128,"I":-3976},{"t":16.170,"I":-4529},{"t":16.234,"I":-3976},{"t":16.340,"I":-1669},{"t":16.447,"I":-515},{"t":16.596,"I":-285},{"t":17.128,"I":-169},{"t":18.298,"I":-115},
  {"t":18.468,"I":-208},{"t":18.489,"I":-2438},{"t":18.511,"I":-4745},{"t":18.532,"I":-5114},{"t":18.596,"I":-3207},{"t":18.638,"I":-1976},{"t":18.723,"I":-1054},{"t":18.936,"I":-669},{"t":19.255,"I":-438},{"t":19.574,"I":-377},{"t":19.787,"I":-385},{"t":19.894,"I":-323},{"t":20.319,"I":-269},{"t":21.170,"I":-208},
  {"t":21.191,"I":-361},{"t":21.234,"I":-1669},{"t":21.277,"I":-2415},{"t":21.383,"I":-1976},{"t":21.489,"I":-1669},{"t":21.702,"I":-1284},{"t":21.957,"I":-1038}
 ]
}
}
